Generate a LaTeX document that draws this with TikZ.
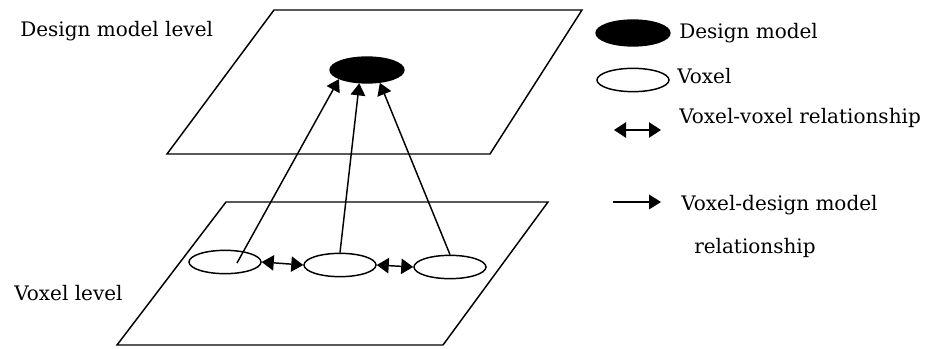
\documentclass[tikz,border=0pt]{standalone}
\usepackage{fontspec}
\setmainfont{DejaVu Serif}
\usetikzlibrary{shapes.geometric,arrows.meta}
\begin{document}
\begin{tikzpicture}[x=0.75pt,y=-0.75pt,
  plane/.style={draw,line width=1.1pt,line join=miter},
  dmodel/.style={ellipse,draw,fill=black,line width=1pt,inner sep=0pt,minimum width=55.5pt,minimum height=19.5pt},
  voxel/.style={ellipse,draw,fill=white,line width=1.1pt,inner sep=0pt,minimum width=54pt,minimum height=17.5pt},
  rel/.style={line width=1.1pt,-{Triangle[length=9pt,width=11pt]}},
  vv/.style={line width=1.1pt,{Triangle[length=9pt,width=11.5pt]}-{Triangle[length=9pt,width=11.5pt]}},
  leg/.style={anchor=west,inner sep=0pt,font=\fontsize{15pt}{18pt}\selectfont}]
\useasboundingbox (0,0) rectangle (935,349);
% planes
\draw[plane] (274,10) -- (582,10) -- (490,154) -- (167,154) -- cycle;
\draw[plane] (226,202) -- (548,202) -- (443,345) -- (117,345) -- cycle;
% labels
\node[leg] (ldm) at (20,31) {Design model level};
\node[leg] (lvx) at (14,293) {Voxel level};
% nodes
\node[dmodel] (dm) at (367,70) {};
\node[voxel] (v1) at (225,262) {};
\node[voxel] (v2) at (340,265) {};
\node[voxel] (v3) at (450,267) {};
\coordinate (s1) at (237,263);
% relations
\draw[rel] (s1) -- (dm.198);
\draw[rel] (v2.north) -- (dm.240);
\draw[rel] (v3.north) -- (dm.315);
\draw[vv] (v1.east) -- (v2.west);
\draw[vv] (v2.east) -- (v3.west);
% legend
\node[dmodel] (ldmod) at (633,33) {};
\node[leg] (tdm) at (679,33) {Design model};
\node[voxel] (lvox) at (633,80) {};
\node[leg] (tvx) at (677,76) {Voxel};
\coordinate (a1) at (614,130);
\coordinate (a2) at (661,130);
\draw[vv] (a1) -- (a2);
\node[leg] (tvv) at (679,118) {Voxel-voxel relationship};
\coordinate (b1) at (613,202);
\coordinate (b2) at (661,202);
\draw[rel] (b1) -- (b2);
\node[leg] (tvd) at (681,205) {Voxel-design model};
\node[leg] (tvd2) at (694,248) {relationship};
\end{tikzpicture}
\end{document}
